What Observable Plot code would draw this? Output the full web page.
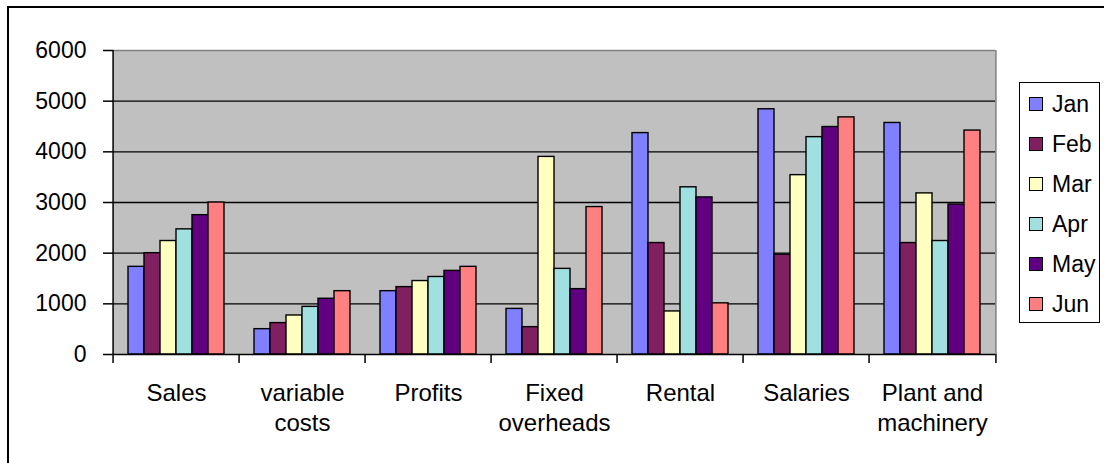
<!DOCTYPE html>
<html>
<head>
<meta charset="utf-8">
<script src="https://cdn.jsdelivr.net/npm/d3@7"></script>
<script src="https://cdn.jsdelivr.net/npm/@observablehq/plot@0.6"></script>
<style>
  html, body { margin: 0; padding: 0; background: #fff; overflow: hidden; width: 1104px; height: 463px; }
  #wrap { position: relative; width: 1104px; height: 463px; font-family: Arial, "Liberation Sans", sans-serif; }
  #border { position: absolute; left: 7px; top: 6px; width: 1120px; height: 480px; border: 2px solid #000; box-sizing: border-box; pointer-events: none; }
  #chart { position: absolute; left: 0; top: 0; }
  #legend { position: absolute; left: 1019px; top: 82px; width: 81px; height: 241px; border: 1px solid #000; box-sizing: border-box; background: #fff; }
  .item { position: absolute; left: 9px; height: 26px; display: flex; align-items: center; font-size: 23px; color: #000; }
  .sw { width: 12px; height: 12px; border: 1px solid #000; margin-right: 9px; }
</style>
</head>
<body>
<div id="wrap">
  <div id="chart"></div>
  <div id="legend"></div>
  <div id="border"></div>
</div>
<script>
const categories = ["Sales", "variable costs", "Profits", "Fixed overheads", "Rental", "Salaries", "Plant and machinery"];
const categoryLabels = ["Sales", "variable\ncosts", "Profits", "Fixed\noverheads", "Rental", "Salaries", "Plant and\nmachinery"];
const months = ["Jan", "Feb", "Mar", "Apr", "May", "Jun"];
const colors = ["#8080FF", "#802060", "#FFFFC0", "#A0E0E0", "#600080", "#FF8080"];
const yTicks = [0, 1000, 2000, 3000, 4000, 5000, 6000];

const jan = [1730, 500, 1250, 900, 4370, 4840, 4570];
const feb = [2000, 620, 1330, 540, 2200, 1970, 2200];
const mar = [2240, 770, 1450, 3900, 850, 3540, 3180];
const apr = [2470, 940, 1530, 1690, 3300, 4290, 2240];
const may = [2750, 1100, 1650, 1290, 3100, 4490, 2960];
const jun = [3000, 1250, 1730, 2910, 1010, 4680, 4420];

const series = [jan, feb, mar, apr, may, jun];
const data = [];
categories.forEach((c, i) => {
  months.forEach((m, j) => data.push({category: c, month: m, value: series[j][i]}));
});

const W = 1104, H = 463;
const mL = 110, mR = 106, mT = 50, mB = 109;
const facetW = (W - mL - mR) / categories.length;
const labelOf = new Map(categories.map((c, i) => [c, categoryLabels[i]]));

const chart = Plot.plot({
  width: W,
  height: H,
  marginLeft: mL,
  marginRight: mR,
  marginTop: mT,
  marginBottom: mB,
  style: {fontFamily: "Arial, 'Liberation Sans', sans-serif", fontSize: "23px", color: "#000", background: "transparent"},
  fx: {domain: categories, padding: 0, label: null},
  x: {domain: months, paddingInner: 0, paddingOuter: 0.72, axis: null},
  y: {domain: [0, 6000], label: null},
  color: {domain: months, range: colors},
  marks: [
    Plot.frame({fill: "#C0C0C0", stroke: "#C0C0C0", strokeWidth: 1}),
    Plot.ruleY(yTicks.filter(v => v > 0 && v < 6000), {stroke: "#000", strokeWidth: 1.3}),
    Plot.ruleY([6000], {stroke: "#808080", strokeWidth: 1.5}),
    Plot.gridFx({ticks: [categories[categories.length - 1]], dx: facetW / 2, stroke: "#808080", strokeOpacity: 1, strokeWidth: 1.5}),
    Plot.barY(data, {fx: "category", x: "month", y: "value", fill: "month", stroke: "#000", strokeWidth: 1.4}),
    Plot.ruleY([0], {stroke: "#000", strokeWidth: 1.5}),
    Plot.gridFx({ticks: [categories[0]], dx: -facetW / 2, stroke: "#000", strokeOpacity: 1, strokeWidth: 1.5}),
    Plot.axisFx({anchor: "bottom", tickSize: 9, dx: -facetW / 2, tickFormat: () => "", label: null, strokeWidth: 1.5}),
    Plot.axisFx({anchor: "bottom", ticks: [categories[categories.length - 1]], tickSize: 9, dx: facetW / 2, tickFormat: () => "", label: null, strokeWidth: 1.5}),
    Plot.axisFx({anchor: "bottom", tickSize: 0, tickPadding: 25, tickFormat: d => labelOf.get(d), fontSize: 24, lineHeight: 1.25, label: null}),
    Plot.axisY({ticks: yTicks, tickSize: 10, tickPadding: 17, tickFormat: "d", fontSize: 23, label: null, strokeWidth: 1.5})
  ]
});
document.getElementById("chart").appendChild(chart);

const legend = document.getElementById("legend");
months.forEach((m, i) => {
  const item = document.createElement("div");
  item.className = "item";
  item.style.top = (8 + i * 40) + "px";
  const sw = document.createElement("span");
  sw.className = "sw";
  sw.style.background = colors[i];
  const t = document.createElement("span");
  t.textContent = m;
  item.appendChild(sw);
  item.appendChild(t);
  legend.appendChild(item);
});
</script>
</body>
</html>
